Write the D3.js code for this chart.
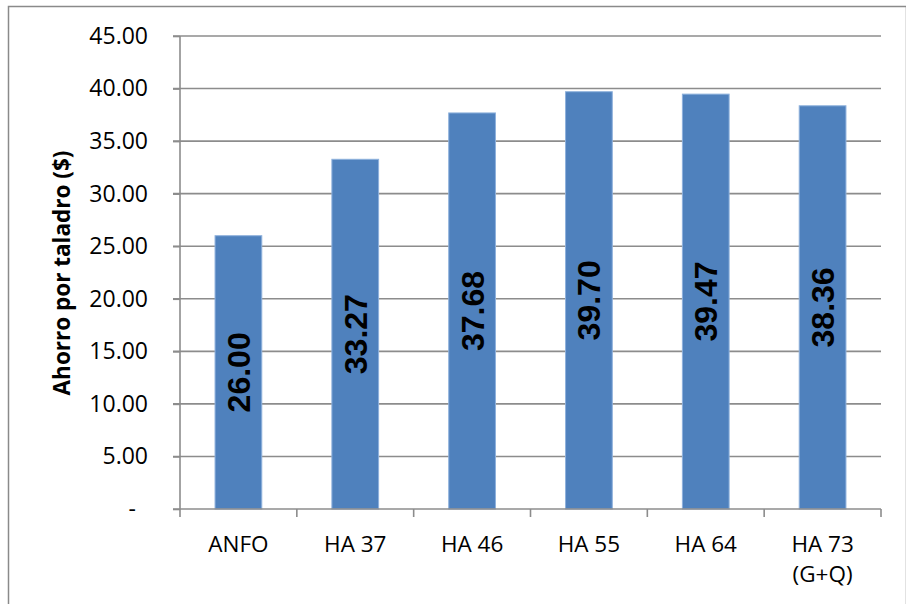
<!DOCTYPE html>
<html>
<head>
<meta charset="utf-8">
<script src="https://cdn.jsdelivr.net/npm/d3@7"></script>
<style>
  body { margin: 0; background: #fff; }
  svg text { font-family: 'Open Sans', 'Liberation Sans', sans-serif; fill: #000; }
</style>
</head>
<body>
<svg id="chart" width="906" height="604"></svg>
<script>
// data
const categories = ['ANFO', 'HA 37', 'HA 46', 'HA 55', 'HA 64', 'HA 73\n(G+Q)']
const ahorro = [26.0, 33.27, 37.68, 39.7, 39.47, 38.36]
const yTicks = [0, 5, 10, 15, 20, 25, 30, 35, 40, 45]
const yTitle = 'Ahorro por taladro ($)'

const svg = d3.select('#chart')
const margin = { left: 180, right: 25, top: 36, bottom: 95 }
const W = 906, H = 604

// outer frame of the chart area
svg.append('rect')
  .attr('x', 8.5).attr('y', 6.5)
  .attr('width', W - 8).attr('height', H)
  .attr('fill', 'none')
  .attr('stroke', '#8a8a8a')
  .attr('stroke-width', 1.5)

let x = d3.scaleBand()
  .domain(categories)
  .range([margin.left, W - margin.right])
  .paddingInner(0.6)
  .paddingOuter(0.3)

let xb = d3.scaleBand().domain(categories).range([margin.left, W - margin.right])

let y = d3.scaleLinear()
  .domain([0, 45])
  .range([H - margin.bottom, margin.top])

// gridlines
svg.append('g')
  .selectAll('line')
  .data(yTicks.slice(1))
  .enter()
  .append('line')
  .attr('x1', margin.left - 7)
  .attr('x2', W - margin.right)
  .attr('y1', d => y(d))
  .attr('y2', d => y(d))
  .attr('stroke', '#8c8c8c')
  .attr('stroke-width', 1.6)

// y axis
let yAxis = svg.append('g')
  .attr('transform', 'translate(' + margin.left + ',0)')
  .call(d3.axisLeft(y).tickValues(yTicks).tickSize(7).tickPadding(25)
    .tickFormat(d => d === 0 ? '-' : d3.format('.2f')(d)))
yAxis.selectAll('path, line').attr('stroke', '#8c8c8c').attr('stroke-width', 1.6)
yAxis.select('.domain').attr('d', 'M0,' + y(0) + 'V' + y(45))
yAxis.selectAll('text').style('font-size', '23px').attr('fill', '#000')
yAxis.selectAll('.tick').filter(d => d === 0).select('text').attr('dx', '-12')

// bars
svg.append('g')
  .selectAll('rect')
  .data(ahorro)
  .enter()
  .append('rect')
  .attr('x', (d, i) => x(categories[i]))
  .attr('width', x.bandwidth())
  .attr('y', d => y(d))
  .attr('height', d => y(0) - y(d))
  .attr('fill', '#4f81bd')
  .attr('stroke', '#8eb1dc')
  .attr('stroke-width', 1)

// x axis
let xAxisY = y(0)
svg.append('line')
  .attr('x1', margin.left - 7).attr('x2', W - margin.right)
  .attr('y1', xAxisY).attr('y2', xAxisY)
  .attr('stroke', '#8c8c8c').attr('stroke-width', 1.6)

let bounds = categories.map(c => xb(c)).concat([W - margin.right])
svg.append('g')
  .selectAll('line')
  .data(bounds)
  .enter()
  .append('line')
  .attr('x1', d => d).attr('x2', d => d)
  .attr('y1', xAxisY).attr('y2', xAxisY + 8)
  .attr('stroke', '#8c8c8c').attr('stroke-width', 1.6)

let catText = svg.append('g')
  .selectAll('text')
  .data(categories)
  .enter()
  .append('text')
  .attr('text-anchor', 'middle')
  .style('font-size', '22.5px')
catText.each(function(d) {
  let t = d3.select(this)
  d.split('\n').forEach((line, k) => {
    t.append('tspan')
      .attr('x', xb(d) + xb.bandwidth() / 2)
      .attr('y', 552 + k * 30)
      .text(line)
  })
})

// value labels inside the bars
svg.append('g')
  .selectAll('text')
  .data(ahorro)
  .enter()
  .append('text')
  .attr('transform', (d, i) => {
    let cx = x(categories[i]) + x.bandwidth() / 2
    let cy = (y(d) + y(0)) / 2
    return 'translate(' + cx + ',' + cy + ') rotate(-90)'
  })
  .attr('text-anchor', 'middle')
  .attr('dy', '0.36em')
  .style('font-family', "'Liberation Sans Narrow', 'Arial Narrow', 'Liberation Sans', sans-serif")
  .style('font-weight', 'bold')
  .style('font-size', '32px')
  .text(d => d3.format('.2f')(d))

// axis title
svg.append('text')
  .attr('transform', 'translate(62,' + 273 + ') rotate(-90)')
  .attr('text-anchor', 'middle')
  .attr('dy', '0.36em')
  .style('font-weight', 'bold')
  .style('font-size', '22.5px')
  .text(yTitle)
</script>
</body>
</html>
